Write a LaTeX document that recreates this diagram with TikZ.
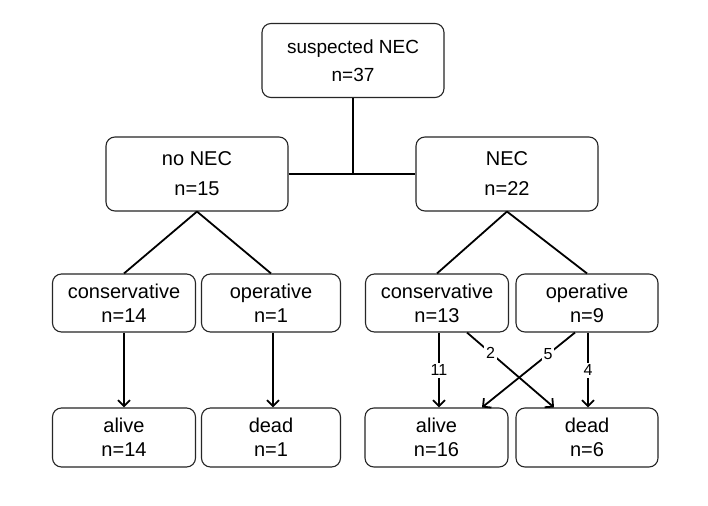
\documentclass[tikz,border=0pt]{standalone}
\usepackage{fontspec}
\setmainfont{Liberation Sans}
\usetikzlibrary{arrows.meta,calc}
\begin{document}
\begin{tikzpicture}[x=1pt,y=-1pt,
  box/.style={draw=black!85,line width=1.1pt,rounded corners=9pt,fill=white,align=center,
    inner sep=0pt,font=\fontsize{20}{24}\selectfont},
  bigbox/.style={box,minimum width=182pt,minimum height=74pt},
  smallbox/.style={box,minimum width=143pt,minimum height=58pt},
  conn/.style={line width=1.8pt,black},
  arr/.style={conn,-{Straight Barb[length=6pt,width=12pt,line width=1.8pt]}},
  num/.style={fill=white,inner sep=2pt,font=\fontsize{16}{18}\selectfont}]
\useasboundingbox[fill=white] (0,0) rectangle (708,505);
\node[bigbox,font=\fontsize{19}{24}\selectfont] (top) at (353,60.5) {suspected NEC\\[4pt]n=37};
\node[bigbox] (no) at (197,174) {no NEC\\[6pt]n=15};
\node[bigbox] (nec) at (507,174) {NEC\\[6pt]n=22};
\node[smallbox] (c14) at (124,303) {conservative\\n=14};
\node[smallbox,minimum width=139pt] (o1) at (271,303) {operative\\n=1};
\node[smallbox] (c13) at (437,303) {conservative\\n=13};
\node[smallbox,minimum width=142pt] (o9) at (587,303) {operative\\n=9};
\node[smallbox,minimum height=59pt] (a14) at (124,437.5) {alive\\n=14};
\node[smallbox,minimum width=139pt,minimum height=59pt] (d1) at (271,437.5) {dead\\n=1};
\node[smallbox,minimum height=59pt] (a16) at (436.5,437.5) {alive\\n=16};
\node[smallbox,minimum width=142pt,minimum height=59pt] (d6) at (587,437.5) {dead\\n=6};
\draw[conn] (top.south) -- (top.south |- no.east);
\draw[conn] (no.east) -- (nec.west);
\draw[conn] (no.south) -- (c14.north);
\draw[conn] (no.south) -- (o1.north);
\draw[conn] (nec.south) -- (c13.north);
\draw[conn] (nec.south) -- (o9.north);
\draw[arr] (c14.south) -- (a14.north);
\draw[arr] ([xshift=2pt]o1.south) -- ([xshift=2pt]d1.north);
\draw[arr] ([xshift=2pt]c13.south) -- ([xshift=2.5pt]a16.north) node[num,pos=0.5] {11};
\draw[arr] ([xshift=30pt]c13.south) -- ([xshift=-33pt]d6.north) node[num,pos=0.27] {2};
\draw[arr] ([xshift=-12pt]o9.south) -- ([xshift=45.5pt]a16.north) node[num,pos=0.29] {5};
\draw[arr] ([xshift=1pt]o9.south) -- ([xshift=1pt]d6.north) node[num,pos=0.5] {4};
\end{tikzpicture}
\end{document}
